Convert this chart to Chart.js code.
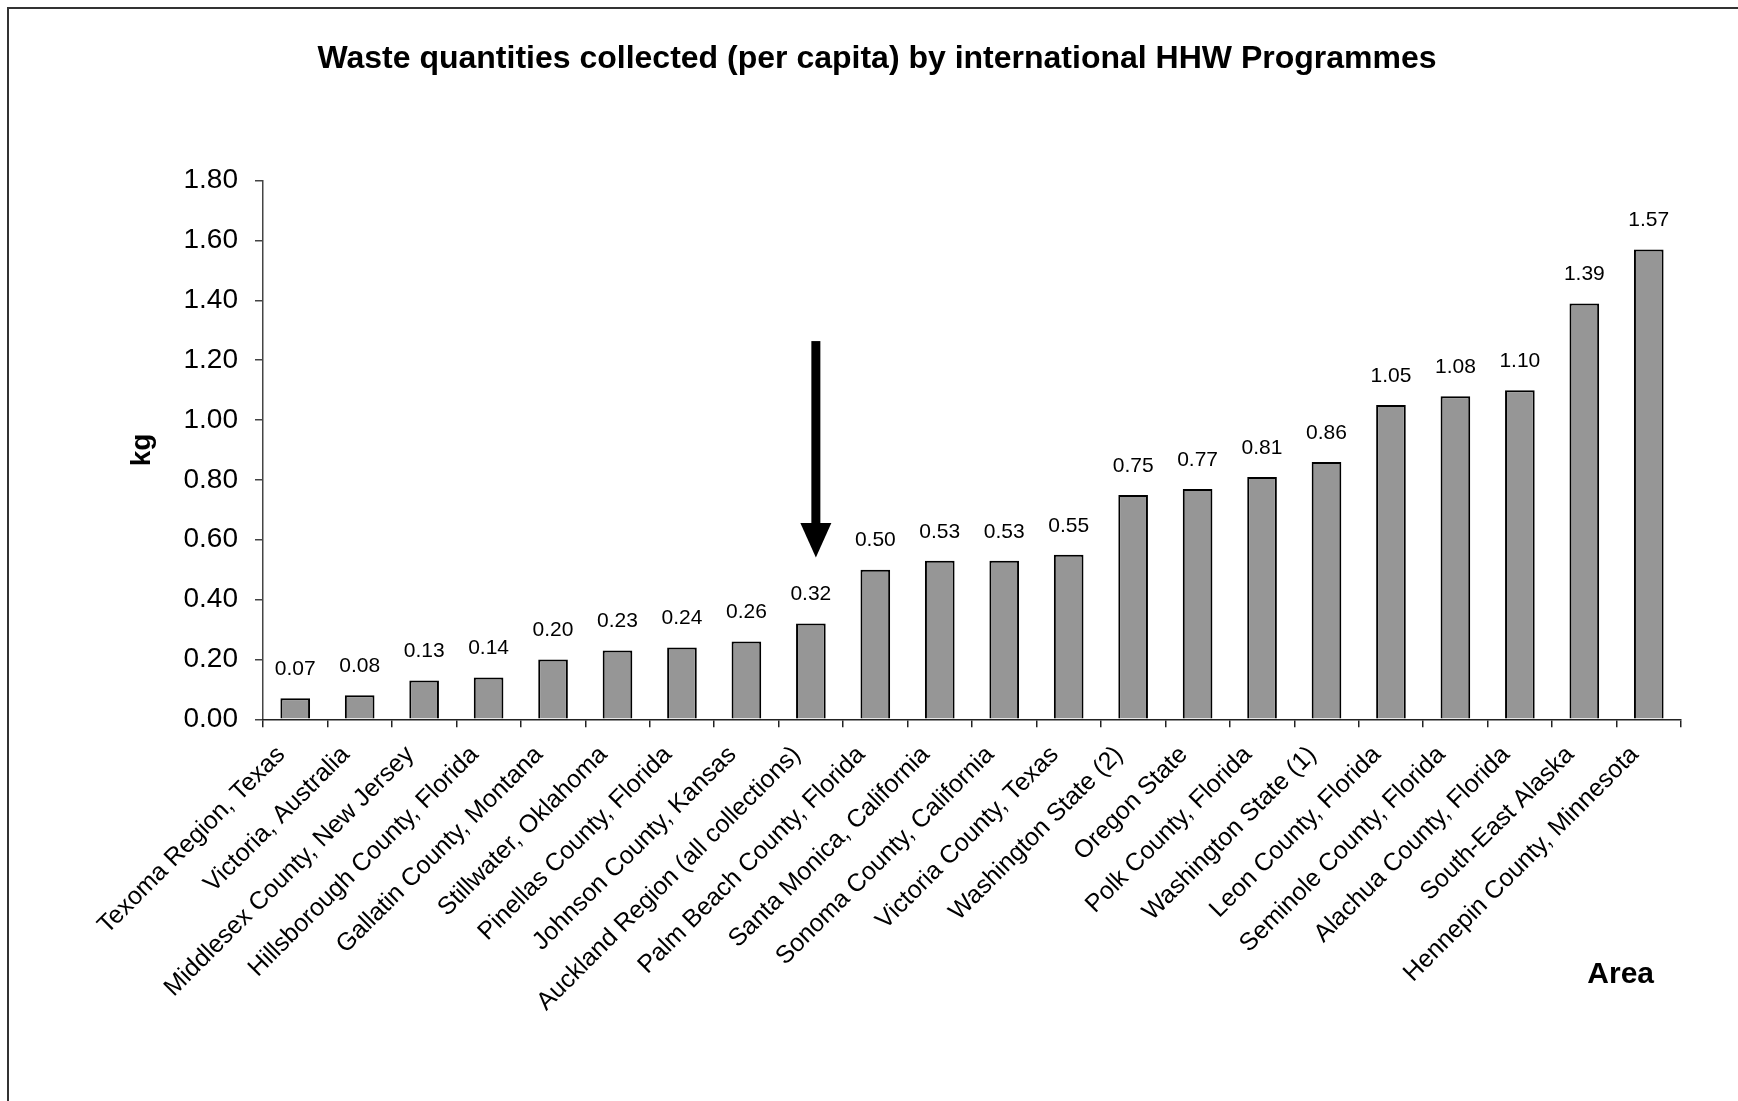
<!DOCTYPE html>
<html>
<head>
<meta charset="utf-8">
<script src="https://cdn.jsdelivr.net/npm/chart.js@4.4.1/dist/chart.umd.min.js"></script>
<style>
  html, body { margin: 0; padding: 0; background: #fff; overflow: hidden; }
  #frame { position: absolute; left: 7px; top: 7px; width: 1760px; height: 1120px; border: 2px solid #333; }
  #chart { position: absolute; left: 0; top: 0; }
</style>
</head>
<body>
<div id="frame"></div>
<canvas id="chart" width="1738" height="1101"></canvas>
<script>
var FONT = "'Liberation Sans', Arial, sans-serif"

var areas = [
  "Texoma Region, Texas", "Victoria, Australia", "Middlesex County, New Jersey",
  "Hillsborough County, Florida", "Gallatin County, Montana", "Stillwater, Oklahoma",
  "Pinellas County, Florida", "Johnson County, Kansas", "Auckland Region (all collections)",
  "Palm Beach County, Florida", "Santa Monica, California", "Sonoma County, California",
  "Victoria County, Texas", "Washington State (2)", "Oregon State", "Polk County, Florida",
  "Washington State (1)", "Leon County, Florida", "Seminole County, Florida",
  "Alachua County, Florida", "South-East Alaska", "Hennepin County, Minnesota"
]
var kgPerCapita = [0.07, 0.08, 0.13, 0.14, 0.20, 0.23, 0.24, 0.26, 0.32, 0.50, 0.53,
                   0.53, 0.55, 0.75, 0.77, 0.81, 0.86, 1.05, 1.08, 1.10, 1.39, 1.57]
var yMin = 0, yMax = 1.8, yStep = 0.2

// the arrow pointing at Auckland
var arrowIndex = 8
var arrowFrom = 1.264, arrowHead = 0.656, arrowTo = 0.541

var extras = {
  id: "extras",
  afterDatasetsDraw: function(chart) {
    var ctx = chart.ctx
    var meta = chart.getDatasetMeta(0)
    ctx.save()
    ctx.fillStyle = "#000"
    ctx.font = "21px " + FONT
    ctx.textAlign = "center"
    ctx.textBaseline = "middle"
    meta.data.forEach(function(bar, i) {
      ctx.fillText(kgPerCapita[i].toFixed(2), bar.x, bar.y - 29)
    })

    // arrow
    var xs = chart.scales.x, ys = chart.scales.y
    var ax = xs.getPixelForValue(arrowIndex) + 5
    var y1 = ys.getPixelForValue(arrowFrom)
    var y2 = ys.getPixelForValue(arrowHead)
    var y3 = ys.getPixelForValue(arrowTo)
    ctx.fillRect(ax - 4.5, y1, 9, y2 - y1 + 1)
    ctx.beginPath()
    ctx.moveTo(ax - 15.5, y2)
    ctx.lineTo(ax + 15.5, y2)
    ctx.lineTo(ax, y3)
    ctx.closePath()
    ctx.fill()

    // x axis name
    ctx.font = "bold 30px " + FONT
    ctx.textAlign = "right"
    ctx.fillText("Area", 1654, 975)
    ctx.restore()
  }
}

new Chart(document.getElementById("chart"), {
  type: "bar",
  data: {
    labels: areas,
    datasets: [{
      data: kgPerCapita,
      backgroundColor: "#969696",
      borderColor: "#000",
      borderWidth: 2,
      barPercentage: 0.46,
      categoryPercentage: 1
    }]
  },
  options: {
    responsive: false,
    animation: false,
    layout: { padding: { left: 73, right: 57, top: 0, bottom: 0 } },
    plugins: {
      legend: { display: false },
      tooltip: { enabled: false },
      title: {
        display: true,
        text: "Waste quantities collected (per capita) by international HHW Programmes",
        color: "#000",
        font: { family: FONT, size: 32, weight: "bold" },
        padding: { top: 39.5, bottom: 102.8 }
      }
    },
    scales: {
      y: {
        min: yMin,
        max: yMax,
        afterFit: function(s) { s.width = 190 },
        ticks: {
          stepSize: yStep,
          padding: 17,
          color: "#000",
          font: { family: FONT, size: 28 },
          callback: function(v) { return v.toFixed(2) }
        },
        grid: { display: true, drawOnChartArea: false, drawTicks: true, tickLength: 8, tickColor: "#444", lineWidth: 1.5 },
        border: { display: true, color: "#444", width: 1.5 },
        title: {
          display: true,
          text: "kg",
          color: "#000",
          font: { family: FONT, size: 28, weight: "bold" },
          padding: { top: 52, bottom: 0 }
        }
      },
      x: {
        afterFit: function(s) { s.height = 1101 - 719.3 },
        ticks: {
          autoSkip: false,
          maxRotation: 45,
          minRotation: 45,
          padding: 13,
          labelOffset: -14,
          color: "#000",
          font: { family: FONT, size: 25 }
        },
        grid: { display: true, offset: true, drawOnChartArea: false, drawTicks: true, tickLength: 8, tickColor: "#222", lineWidth: 1.5 },
        border: { display: true, color: "#222", width: 1.5 }
      }
    }
  },
  plugins: [extras]
})
</script>
</body>
</html>
